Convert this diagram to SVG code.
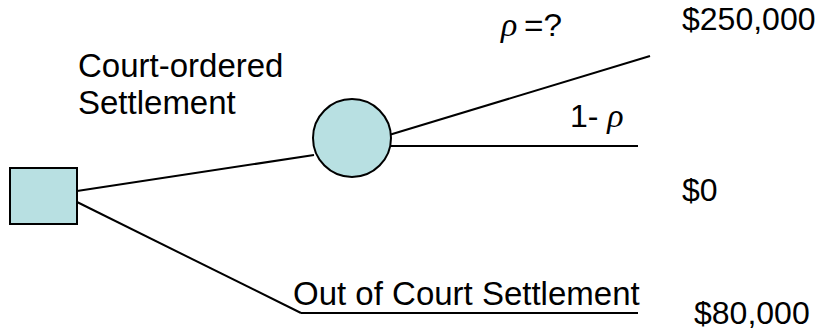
<svg xmlns="http://www.w3.org/2000/svg" width="822" height="333" viewBox="0 0 822 333">
<style>
.node{fill:#b8e0e2;stroke:#000;stroke-width:2}
.edge{stroke:#000;stroke-width:2;fill:none}
text{font-family:"Liberation Sans",Arial,sans-serif;font-size:32px;fill:#000}
.big{font-size:33px}
.rho{font-family:"Liberation Serif","Times New Roman",serif;font-style:italic;font-size:34px}
</style>
<rect width="822" height="333" fill="#fff"/>
<g id="connectors">
<line class="edge" x1="77" y1="191" x2="314" y2="155"/>
<line class="edge" x1="77" y1="202" x2="301" y2="313"/>
<line class="edge" x1="301" y1="313" x2="638" y2="313"/>
<line class="edge" x1="389" y1="135" x2="650" y2="56"/>
<line class="edge" x1="390" y1="146" x2="638" y2="146"/>
</g>
<g id="decision">
<rect class="node" x="10" y="168" width="67" height="56"/>
</g>
<g id="chance">
<circle class="node" cx="352" cy="138" r="39"/>
</g>
<g id="labels">
<text class="big" x="78" y="77">Court-ordered</text>
<text class="big" x="78" y="114">Settlement</text>
<text class="rho" x="501" y="36">ρ</text>
<text x="524" y="36" textLength="38" lengthAdjust="spacingAndGlyphs">=?</text>
<text x="570" y="127">1- <tspan class="rho">ρ</tspan></text>
<text class="big" x="293" y="305">Out of Court Settlement</text>
<text x="682" y="30">$250,000</text>
<text x="682" y="201">$0</text>
<text x="694" y="324">$80,000</text>
</g>
</svg>
